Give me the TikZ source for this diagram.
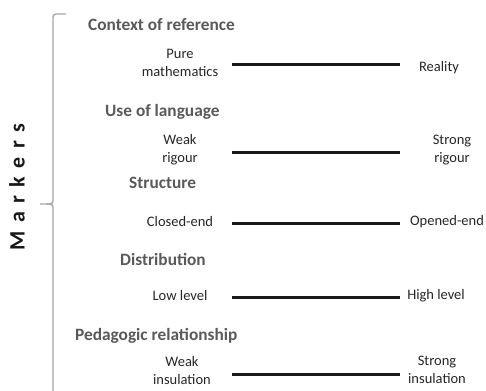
\documentclass[tikz,border=0pt]{standalone}
\usepackage{fontspec}
\setmainfont{Carlito}
\definecolor{headc}{HTML}{595959}
\definecolor{labc}{HTML}{262626}
\definecolor{bracec}{HTML}{A6A6A6}
\begin{document}
\begin{tikzpicture}[x=1pt,y=-1pt,
  head/.style={anchor=west,inner sep=0pt,text=headc,font=\fontsize{17.3}{20}\selectfont\bfseries},
  lab/.style={align=center,inner sep=0pt,text=labc,font=\fontsize{14.5}{18}\selectfont},
  bar/.style={line width=3pt,draw=black!90},
  bracket/.style={draw=bracec,line width=1.4pt,rounded corners=3pt}]
\useasboundingbox (0,0) rectangle (486,390);
% brace
\coordinate (bt) at (66,14);
\coordinate (bm) at (40,204);
\coordinate (bb) at (53,392);
\draw[bracket] (bt) -| (bm -| bb) -- (bm);
\draw[bracket] (46,204) -| (bb);
\node[rotate=90,inner sep=0pt,text=black!90,font=\fontsize{22}{24}\selectfont\bfseries] (markers) at (17,187)
  {M\hspace{8.5pt}a\hspace{8.5pt}r\hspace{8.5pt}k\hspace{8.5pt}e\hspace{8.5pt}r\hspace{8.5pt}s};
% headings
\node[head] (h1) at (88,25) {Context of reference};
\node[head] (h2) at (105,112) {Use of language};
\node[head] (h3) at (129,183) {Structure};
\node[head] (h4) at (120,259) {Distribution};
\node[head] (h5) at (75,336) {Pedagogic relationship};
% row 1
\node[lab] (a1) at (180,63) {Pure\\mathematics};
\node[lab] (b1) at (439,68) {Reality};
\coordinate (s1) at (232,65); \coordinate (e1) at (400,65);
\draw[bar] (s1) -- (e1);
% row 2
\node[lab] (a2) at (180,150) {Weak\\rigour};
\node[lab] (b2) at (452,150) {Strong\\rigour};
\coordinate (s2) at (232,152); \coordinate (e2) at (400,152);
\draw[bar] (s2) -- (e2);
% row 3
\node[lab] (a3) at (180,222) {Closed-end};
\node[lab] (b3) at (447,222) {Opened-end};
\coordinate (s3) at (232,223); \coordinate (e3) at (400,223);
\draw[bar] (s3) -- (e3);
% row 4
\node[lab] (a4) at (180,296) {Low level};
\node[lab] (b4) at (436,296) {High level};
\coordinate (s4) at (232,297); \coordinate (e4) at (400,297);
\draw[bar] (s4) -- (e4);
% row 5
\node[lab] (a5) at (182,371) {Weak\\insulation};
\node[lab] (b5) at (437,370) {Strong\\insulation};
\coordinate (s5) at (232,374); \coordinate (e5) at (400,374);
\draw[bar] (s5) -- (e5);
\end{tikzpicture}
\end{document}
